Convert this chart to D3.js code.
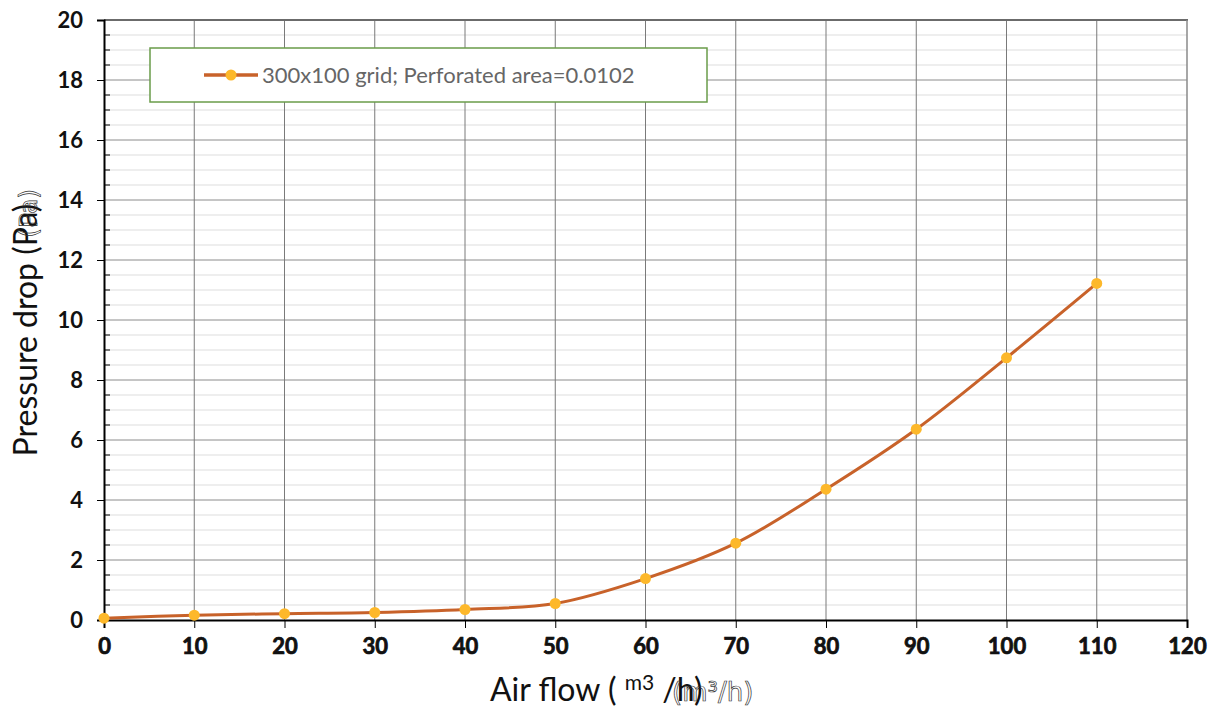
<!DOCTYPE html>
<html><head><meta charset="utf-8">
<script src="https://cdn.jsdelivr.net/npm/d3@7"></script>
<style>html,body{margin:0;padding:0;background:#fff;}svg{display:block;}</style>
</head><body>
<svg id="c" width="1215" height="709"></svg>
<script>
const airFlow = [0, 10, 20, 30, 40, 50, 60, 70, 80, 90, 100, 110];
const pressureDrop = [0.06, 0.16, 0.21, 0.25, 0.35, 0.55, 1.38, 2.56, 4.36, 6.36, 8.74, 11.22];
const xTicks = [0, 10, 20, 30, 40, 50, 60, 70, 80, 90, 100, 110, 120];
const yTicks = [0, 2, 4, 6, 8, 10, 12, 14, 16, 18, 20];
const seriesName = "300x100 grid; Perforated area=0.0102";

const svg = d3.select("#c");
const L = 104, R = 1187, T = 20, B = 620;
const x = d3.scaleLinear().domain([0, 120]).range([L, R]);
const y = d3.scaleLinear().domain([0, 20]).range([B, T]);
const font = "Lato, 'Open Sans', sans-serif";

// minor horizontal grid
const minor = d3.range(0.5, 20, 0.5).filter(v => v % 2 !== 0);
svg.append("g").selectAll("line").data(minor).join("line")
  .attr("x1", L).attr("x2", R).attr("y1", d => y(d)).attr("y2", d => y(d))
  .attr("stroke", "#e8e8e8").attr("stroke-width", 1.5);
// major horizontal grid
svg.append("g").selectAll("line").data(yTicks.filter(v => v > 0 && v < 20)).join("line")
  .attr("x1", L).attr("x2", R).attr("y1", d => y(d)).attr("y2", d => y(d))
  .attr("stroke", "#8c8c8c").attr("stroke-width", 1);
// vertical grid
svg.append("g").selectAll("line").data(xTicks.filter(v => v > 0 && v < 120)).join("line")
  .attr("x1", d => x(d)).attr("x2", d => x(d)).attr("y1", T).attr("y2", B)
  .attr("stroke", "#7a7a7a").attr("stroke-width", 1);
// top & right border
svg.append("line").attr("x1", L).attr("x2", R + 1).attr("y1", T).attr("y2", T).attr("stroke", "#6b6b6b").attr("stroke-width", 2);
svg.append("line").attr("x1", R).attr("x2", R).attr("y1", T).attr("y2", B).attr("stroke", "#8a8a8a").attr("stroke-width", 1.5);

// minor ticks inside y-axis
svg.append("g").selectAll("line").data(minor).join("line")
  .attr("x1", L).attr("x2", L + 6).attr("y1", d => y(d)).attr("y2", d => y(d))
  .attr("stroke", "#000").attr("stroke-width", 1);

// axes
const yAxis = d3.axisLeft(y).tickValues(yTicks).tickSize(7).tickPadding(14).tickFormat(d3.format("d"));
const gy = svg.append("g").attr("transform", `translate(${L},0)`).call(yAxis);
gy.select(".domain").attr("stroke", "#000").attr("stroke-width", 2);
gy.selectAll(".tick line").attr("stroke", "#000").attr("stroke-width", 1);
gy.selectAll("text").attr("font-family", font).attr("font-weight", "bold").attr("font-size", 22).attr("fill", "#111");

const xAxis = d3.axisBottom(x).tickValues(xTicks).tickSize(8).tickPadding(10).tickFormat(d3.format("d"));
const gx = svg.append("g").attr("transform", `translate(0,${B})`).call(xAxis);
gx.select(".domain").attr("stroke", "#000").attr("stroke-width", 2);
gx.selectAll(".tick line").attr("stroke", "#000").attr("stroke-width", 1);
gx.selectAll("text").attr("font-family", font).attr("font-weight", "bold").attr("font-size", 22)
  .attr("fill", "#111").attr("stroke", "#000").attr("stroke-width", 0.7).attr("paint-order", "stroke");

// series
const pts = airFlow.map((v, i) => [v, pressureDrop[i]]);
const line = d3.line().x(d => x(d[0])).y(d => y(d[1])).curve(d3.curveCatmullRom.alpha(0.5));
svg.append("path").datum(pts).attr("d", line).attr("fill", "none")
  .attr("stroke", "#c8622a").attr("stroke-width", 3);
svg.append("g").selectAll("circle").data(pts).join("circle")
  .attr("cx", d => x(d[0])).attr("cy", d => y(d[1])).attr("r", 5.5)
  .attr("fill", "#fdb82a");

// legend
svg.append("rect").attr("x", 150).attr("y", 48).attr("width", 557).attr("height", 54)
  .attr("fill", "#fff").attr("stroke", "#6a9c4a").attr("stroke-width", 1.5);
svg.append("line").attr("x1", 204).attr("x2", 258).attr("y1", 75).attr("y2", 75)
  .attr("stroke", "#c8622a").attr("stroke-width", 3.5);
svg.append("circle").attr("cx", 231).attr("cy", 75).attr("r", 5.5).attr("fill", "#fdb82a");
svg.append("text").attr("x", 262).attr("y", 83).attr("font-family", font).attr("font-size", 22)
  .attr("fill", "#666").text(seriesName);

// y title
svg.append("text").attr("transform", "translate(37,330) rotate(-90)")
  .attr("text-anchor", "middle").attr("font-family", font).attr("font-size", 32).attr("fill", "#111")
  .text("Pressure drop (Pa)");
svg.append("text").attr("transform", "translate(37,189) rotate(-90)")
  .attr("text-anchor", "end").attr("font-family", "'DejaVu Sans', sans-serif").attr("font-size", 25)
  .attr("fill", "none").attr("stroke", "#333").attr("stroke-width", 0.7).text("(Pa)");

// x title
const xt = svg.append("text").attr("x", 490).attr("y", 701).attr("font-family", font).attr("font-size", 32).attr("fill", "#111");
xt.append("tspan").text("Air flow ( ");
xt.append("tspan").attr("font-size", 21).attr("dy", -11).text("m3");
xt.append("tspan").attr("dy", 11).text(" /h)");
svg.append("text").attr("x", 672).attr("y", 701).attr("font-family", "'DejaVu Sans', sans-serif").attr("font-size", 26)
  .attr("fill", "none").attr("stroke", "#333").attr("stroke-width", 0.7).text("(m³/h)");
</script>
</body></html>
